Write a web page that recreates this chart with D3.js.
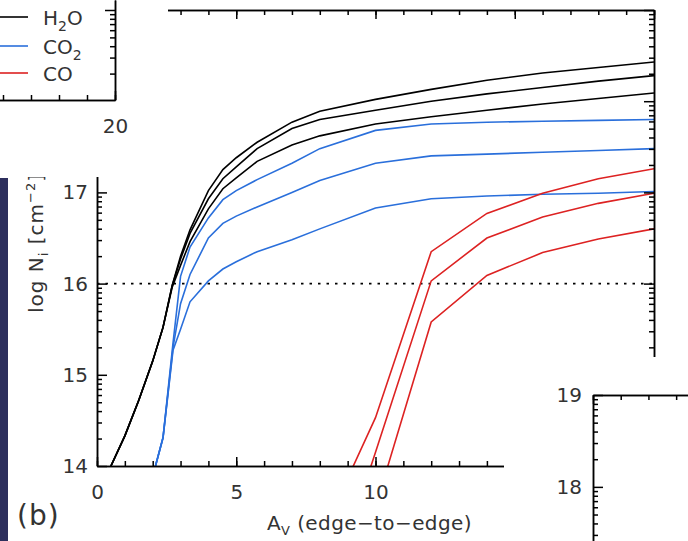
<!DOCTYPE html>
<html>
<head>
<meta charset="utf-8">
<script src="https://cdn.jsdelivr.net/npm/d3@7/dist/d3.min.js"></script>
<style>
  body { margin: 0; background: #fff; }
  text { font-family: "DejaVu Sans", Lato, sans-serif; fill: #333; }
</style>
</head>
<body>
<div id="chart"></div>
<script>
// H2O curves (3 models), shared Av grid
let h2oAv   = [0.5, 1, 1.5, 2, 2.37, 2.7, 3, 3.34, 4, 4.52, 5, 5.75, 7, 8, 10, 12, 14, 16, 18, 20]
let h2oTop  = [14.0, 14.33, 14.72, 15.15, 15.52, 15.98, 16.3, 16.59, 17.02, 17.25, 17.38, 17.55, 17.77, 17.89, 18.02, 18.13, 18.23, 18.31, 18.37, 18.43]
let h2oMid  = [14.0, 14.33, 14.72, 15.15, 15.52, 15.98, 16.27, 16.55, 16.93, 17.15, 17.28, 17.48, 17.7, 17.8, 17.9, 18.0, 18.08, 18.15, 18.22, 18.28]
let h2oLow  = [14.0, 14.33, 14.72, 15.15, 15.52, 15.96, 16.2, 16.46, 16.82, 17.04, 17.16, 17.34, 17.52, 17.62, 17.75, 17.83, 17.9, 17.97, 18.03, 18.09]

// CO2 curves
let co2Av   = [2.1, 2.37, 2.73, 3, 3.34, 4, 4.52, 5, 5.75, 7, 8, 10, 12, 14, 16, 18, 20]
let co2Top  = [14.0, 14.31, 15.35, 16.08, 16.4, 16.72, 16.92, 17.02, 17.14, 17.32, 17.48, 17.68, 17.75, 17.77, 17.78, 17.79, 17.8]
let co2Mid  = [14.0, 14.31, 15.3, 15.78, 16.1, 16.5, 16.66, 16.74, 16.84, 17.0, 17.13, 17.32, 17.4, 17.42, 17.44, 17.46, 17.48]
let co2Low  = [14.0, 14.31, 15.27, 15.5, 15.8, 16.03, 16.16, 16.24, 16.35, 16.48, 16.6, 16.83, 16.93, 16.96, 16.98, 16.99, 17.01]

// CO curves
let coAv    = [8, 10, 12, 14, 16, 18, 20]
let coTop   = [13.2, 14.53, 16.35, 16.77, 16.99, 17.15, 17.26]
let coMid   = [12.3, 14.15, 16.03, 16.5, 16.73, 16.88, 16.99]
let coLow   = [11.5, 13.55, 15.58, 16.09, 16.34, 16.49, 16.6]

// Axis ticks
let xMajor = [0, 5, 10, 15, 20]
let xMinor = d3.range(0, 21, 1)
let xLabels = [0, 5, 10]
let yMajor = [14, 15, 16, 17, 18, 19]
let yLabels = [14, 15, 16, 17]
let logK = [2, 3, 4, 5, 6, 7, 8, 9]
let logMinor = decades => d3.merge(decades.map(d => logK.map(k => d + Math.log10(k))))

let legendItems = [
  { name: 'H', sub: '2', tail: 'O', color: '#000' },
  { name: 'CO', sub: '2', tail: '', color: '#2a6fdb' },
  { name: 'CO', sub: '', tail: '', color: '#dd2222' }
]

let width = 688
let height = 541

let svg = d3.select('#chart').append('svg')
  .attr('width', width)
  .attr('height', height)

// Scales for main panel (b)
let x = d3.scaleLinear().domain([0, 20]).range([97, 654])
let y = d3.scaleLinear().domain([14, 19]).range([466, 10])

svg.append('clipPath').attr('id', 'plot')
  .append('rect')
  .attr('x', x(0)).attr('y', y(19))
  .attr('width', x(20) - x(0)).attr('height', y(14) - y(19))

// helper: axis with inward minor + major ticks, labels only for `labels`
function axisPair (g, make, scale, major, minor, majorLen, minorLen, labels, pad) {
  let [lo, hi] = d3.extent(scale.domain())
  let inside = v => v >= lo - 1e-9 && v <= hi + 1e-9
  g.append('g').call(make(scale).tickValues(minor.filter(inside))
    .tickSize(-minorLen).tickSizeOuter(0).tickFormat(''))
  g.append('g').call(make(scale).tickValues(major.filter(inside))
    .tickSize(-majorLen).tickSizeOuter(0)
    .tickPadding(pad || 9)
    .tickFormat(d => (labels || []).includes(d) ? d3.format('d')(d) : ''))
  g.selectAll('.tick text').filter(function () { return this.textContent === '' }).remove()
  g.selectAll('path, line').attr('stroke', '#000').attr('stroke-width', 1.5)
  g.selectAll('text')
    .attr('font-family', '"DejaVu Sans", Lato, sans-serif')
    .style('font-size', '20px').attr('fill', '#333')
}

// Dotted line at log N = 16
svg.append('line')
  .attr('x1', x(0)).attr('x2', x(20))
  .attr('y1', y(16)).attr('y2', y(16))
  .attr('stroke', '#000')
  .attr('stroke-width', 1.6)
  .attr('stroke-dasharray', '2.5,6')

// Curves
let line = d3.line().x(d => x(d[0])).y(d => y(d[1]))
let drawSeries = function (avs, vals, color) {
  svg.append('path')
    .datum(avs.map((a, i) => [a, vals[i]]))
    .attr('clip-path', 'url(#plot)')
    .attr('fill', 'none')
    .attr('stroke', color)
    .attr('stroke-width', 1.6)
    .attr('d', line)
}
drawSeries(h2oAv, h2oTop, '#000')
drawSeries(h2oAv, h2oMid, '#000')
drawSeries(h2oAv, h2oLow, '#000')
drawSeries(co2Av, co2Top, '#2a6fdb')
drawSeries(co2Av, co2Mid, '#2a6fdb')
drawSeries(co2Av, co2Low, '#2a6fdb')
drawSeries(coAv, coTop, '#dd2222')
drawSeries(coAv, coMid, '#dd2222')
drawSeries(coAv, coLow, '#dd2222')

// Axes
axisPair(svg.append('g').attr('transform', `translate(0, ${y(14)})`),
  d3.axisBottom, x, xMajor, xMinor, 9, 5, xLabels, 19)
axisPair(svg.append('g').attr('transform', `translate(0, ${y(19)})`),
  d3.axisTop, x, xMajor, xMinor, 9, 5)
axisPair(svg.append('g').attr('transform', `translate(${x(0)}, 0)`),
  d3.axisLeft, y, yMajor, logMinor([14, 15, 16, 17, 18]), 10, 5, yLabels, 9)
axisPair(svg.append('g').attr('transform', `translate(${x(20)}, 0)`),
  d3.axisRight, y, yMajor, logMinor([14, 15, 16, 17, 18]), 10, 5)

// Axis titles
let yTitle = svg.append('text')
  .attr('transform', 'translate(43, 313) rotate(-90)')
  .style('font-size', '20px')
  .style('letter-spacing', '1px')
yTitle.append('tspan').text('log N')
yTitle.append('tspan').attr('dy', 5).style('font-size', '13px').text('i')
yTitle.append('tspan').attr('dy', -5).text(' [cm')
yTitle.append('tspan').attr('dy', -8).style('font-size', '13px').text('−2')
yTitle.append('tspan').attr('dy', 8).text(']')

let xTitle = svg.append('text')
  .attr('x', 267).attr('y', 530)
  .style('font-size', '20px')
  .style('letter-spacing', '0.4px')
xTitle.append('tspan').text('A')
xTitle.append('tspan').attr('dy', 5).style('font-size', '13px').text('V')
xTitle.append('tspan').attr('dy', -5).text(' (edge−to−edge)')

svg.append('text')
  .attr('x', 17).attr('y', 525)
  .style('font-size', '28px')
  .style('letter-spacing', '1px')
  .text('(b)')

// Dark strip at the left edge
svg.append('rect')
  .attr('x', 0).attr('y', 178)
  .attr('width', 8).attr('height', height - 178)
  .attr('fill', '#2d2f5d')

// Overlapping neighbour panel, top left (a)
svg.append('rect')
  .attr('x', 0).attr('y', 0)
  .attr('width', 168).attr('height', 177)
  .attr('fill', '#fff')

let xa = d3.scaleLinear().domain([15, 20]).range([-25, 115])
let ya = d3.scaleLinear().domain([17 + 1 / 91, 18 + 10 / 91]).range([100, 0])
axisPair(svg.append('g').attr('transform', 'translate(0, 100)'),
  d3.axisBottom, xa, [15, 20], d3.range(15, 21), 9, 5, [20], 19)
axisPair(svg.append('g').attr('transform', 'translate(115, 0)'),
  d3.axisRight, ya, [17, 18], logMinor([17, 18]), 10, 5)

let legend = svg.append('g')
legendItems.forEach((d, i) => {
  let ly = [17, 46, 73][i]
  legend.append('line')
    .attr('x1', 0).attr('x2', 28)
    .attr('y1', ly).attr('y2', ly)
    .attr('stroke', d.color).attr('stroke-width', 1.6)
  let t = legend.append('text')
    .attr('x', 43).attr('y', ly + 8)
    .style('font-size', '20px')
  t.append('tspan').text(d.name)
  if (d.sub) {
    t.append('tspan').attr('dy', 6).style('font-size', '14px').text(d.sub)
    if (d.tail) t.append('tspan').attr('dy', -6).text(d.tail)
  }
})

// Overlapping neighbour panel, bottom right (c)
svg.append('rect')
  .attr('x', 504).attr('y', 357)
  .attr('width', width - 504).attr('height', height - 357)
  .attr('fill', '#fff')

let xc = d3.scaleLinear().domain([0, 3.5]).range([593, 690])
let yc = d3.scaleLinear().domain([17.4, 19]).range([542, 395])
axisPair(svg.append('g').attr('transform', 'translate(0, 395)'),
  d3.axisTop, xc, [0], d3.range(0, 4), 9, 5)
axisPair(svg.append('g').attr('transform', 'translate(593, 0)'),
  d3.axisLeft, yc, [18, 19], logMinor([17, 18]), 10, 5, [18, 19], 11)
</script>
</body>
</html>
